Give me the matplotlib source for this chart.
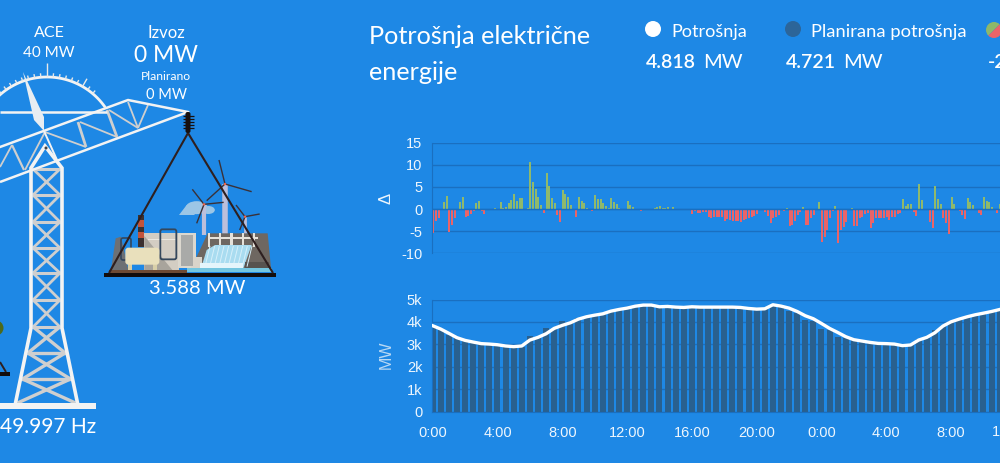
import matplotlib
matplotlib.use('Agg')
import numpy as np
import matplotlib.pyplot as plt
from matplotlib.patches import Circle, Polygon, Rectangle, Ellipse, FancyBboxPatch, Wedge

plt.rcParams['axes.unicode_minus'] = False

BG = '#1e88e5'
GRID = '#1a6fc0'
UI_FONT = ['Lato', 'DejaVu Sans']
AXIS_FONT = ['Liberation Sans', 'DejaVu Sans']

# delta, one value per 10 minutes
delta = [
    -5.3, -2.6, -1.9, 0, 1.6, 3.0, -5.1, -3.6, -2.0, -0.3, 1.6, 2.7, -1.8, -1.5, -1.0, -0.5,
    1.3, 1.8, -0.5, -1.0, -0.3, 0, -0.1, 0.3, 0, 1.6, 0.3, 0.5, 1.4, 2.0, 3.4, 1.8,
    2.6, 2.5, -0.1, 0.3, 10.5, 6.2, 4.6, 2.7, 0.9, -0.9, 8.1, 5.1, 2.5, 1.3, -1.4, -3.0,
    4.2, 3.5, 2.7, 0.9, 0, -1.7, 2.8, 1.8, 1.4, 0.3, 0, -0.5, 3.2, 2.3, 2.2, 1.4,
    0.7, 0.3, 2.6, 1.6, 1.2, 0.3, 0, -0.3, 1.8, 0.9, 0.5, 0, 0, -0.5, 0, 0,
    -0.2, 0, 0.2, 0.5, 0.6, 0.3, 0.3, 0.5, 0.1, 0.4, 0, 0, 0.05,
    -0.05, -0.05, -0.2, -1.1, -0.5, -0.9, -0.9, -0.6, -0.7, -1.7, -2.1, -1.7, -1.7, -1.7, -1.7, -2.7,
    -2.3, -2.4, -2.6, -2.7, -2.6, -2.9, -2.4, -2.3, -2.1, -1.7, -1.6, -1.1, 0, -0.3, -0.7, -1.5,
    -3.1, -2.1, -1.7, -1.3, 0, -0.4, 0.2, -3.9, -3.5, -2.7, -1.3, -0.6, 0.4, -3.5, -3.5, -2.1,
    -1.4, 0, 1.7, -7.4, -6.3, -4.6, -2.0, -0.4, 0.7, -7.6, -4.6, -4.0, -2.8, 0, 0.3, -3.7,
    -3.9, -1.9, -1.8, -1.2, -0.9, -4.2, -3.1, -2.1, -2.1, -2.1, -1.9, -1.8, -2.5, -1.7, -1.8, -1.1,
    -0.8, 2.3, 0.7, 1.2, 1.1, -0.7, -1.6, 5.6, 2.1, 0, 0, -2.8, -4.3, 5.1, 2.3, 1.2,
    -2.1, -3.1, -5.5, 2.8, 1.1, 0, -0.5, -1.4, -2.2, 2.5, 1.5, 1.0, 0, -0.8, -1.4, 2.7,
    1.8, 1.6, 0.5, -0.3, -0.9, 1.1,
]

# consumption and plan, one value per 30 minutes
consumption = [
    3830, 3680, 3490, 3295, 3175, 3100, 3030, 3010, 2980, 2925, 2895, 2925, 3190, 3310, 3470, 3710,
    3845, 3960, 4125, 4230, 4300, 4360, 4480, 4555, 4615, 4700, 4750, 4750, 4675, 4690, 4660, 4645,
    4675, 4660, 4660, 4660, 4660, 4660, 4645, 4600, 4570, 4585, 4765, 4705, 4615, 4465, 4275, 4140,
    3930, 3710, 3530, 3340, 3205, 3145, 3085, 3040, 3030, 3010, 2940, 2970, 3190, 3310, 3515, 3815,
    4005, 4125, 4230, 4320, 4390, 4465, 4555, 4630,
]
planned = [
    3800, 3650, 3420, 3280, 3150, 3080, 3010, 2990, 2960, 2910, 2880, 2900, 3385, 3300, 3740, 3700,
    4050, 3950, 4190, 4220, 4330, 4350, 4470, 4540, 4610, 4690, 4740, 4740, 4670, 4680, 4650, 4640,
    4660, 4650, 4650, 4650, 4650, 4650, 4630, 4590, 4560, 4570, 4720, 4650, 4470, 4400, 4080, 4050,
    3665, 3620, 3310, 3300, 3190, 3130, 3070, 3030, 3020, 3000, 2930, 2960, 3230, 3300, 3640, 3800,
    4020, 4110, 4210, 4310, 4400, 4450, 4540, 4610,
]
hour_ticks = [0, 4, 8, 12, 16, 20, 24, 28, 32]
hour_labels = ['0:00', '4:00', '8:00', '12:00', '16:00', '20:00', '0:00', '4:00', '8:00']

W, H = 1000, 463
fig = plt.figure(figsize=(10, 4.63), dpi=100, facecolor=BG)


def axes_px(left, top, right, bottom, **kw):
    return fig.add_axes([left / W, 1 - bottom / H, (right - left) / W, (bottom - top) / H], **kw)


# overlay in pixel coordinates for the illustration and the header
art = axes_px(0, 0, W, H, zorder=1)
art.set_xlim(0, W)
art.set_ylim(H, 0)
art.axis('off')


def seg(x0, y0, x1, y1, color='#f2f2f2', lw=1.5, z=3):
    art.plot([x0, x1], [y0, y1], color=color, lw=lw, solid_capstyle='butt', zorder=z)


GREY = '#cfcfcf'
WHITE = '#f3f3f3'

# tower lattice
rungs = [169, 195, 222, 248, 273, 300, 327]
for a, b in zip(rungs[:-1], rungs[1:]):
    seg(33, a, 60, b, GREY, 2.0)
    seg(60, a, 33, b, GREY, 2.0)
for y in rungs:
    seg(33, y, 60, y, GREY, 2.2)


def left_x(y):
    return 31 - (y - 328) * 15.5 / 75


low = [327, 353, 379, 403]
for a, b in zip(low[:-1], low[1:]):
    seg(left_x(a) + 2, a, 93 - left_x(b) - 2, b, GREY, 2.4)
    seg(93 - left_x(a) - 2, a, left_x(b) + 2, b, GREY, 2.4)
for y in low[1:3]:
    seg(left_x(y) + 1, y, 92 - left_x(y), y, GREY, 2.4)
art.plot([15.5, 31, 31, 45, 62, 62, 77.5], [403, 328, 168, 146, 168, 328, 403], color=WHITE, lw=2.6,
         solid_joinstyle='miter', zorder=4)
art.add_patch(Rectangle((0, 403), 96, 6, fc=WHITE, ec='none', zorder=5))

# arm webbing
for x0, y0, x1, y1, lw in [
    (128, 102, 138, 128, 1.3), (148, 105, 138, 128, 1.3), (107, 110, 117, 137, 2.0),
    (78, 122, 86, 147, 2.0), (80, 122, 117, 137, 1.3),
    (45, 132, 86, 147, 1.3), (45, 132, 25, 170, 1.3), (12, 145, 24, 170, 1.6), (0, 167, 12, 145, 1.3),
    (109, 110, 138, 128, 1.3),
]:
    seg(x0, y0, x1, y1, GREY, lw)
art.plot([0, 128, 188], [147, 100, 112], color=WHITE, lw=1.8, zorder=4)
seg(0, 182, 188, 112, WHITE, 1.8, 4)
seg(0, 112, 107, 112, WHITE, 1.8, 4)

# ACE gauge
theta = np.linspace(np.pi * 0.2, np.pi * 0.8, 60)
art.plot(47 + 71 * np.cos(theta), 148 - 71 * np.sin(theta), color=WHITE, lw=2.0, zorder=4)
for deg in np.arange(50, 135, 5):
    t = np.radians(deg)
    long_tick = deg in (60, 90)
    rr = 85 if deg == 90 else (80 if long_tick else 75)
    seg(47 + 71 * np.cos(t), 148 - 71 * np.sin(t), 47 + rr * np.cos(t), 148 - rr * np.sin(t), '#e8e8e8', 1.0, 4)
art.add_patch(Polygon([(23, 72), (34, 120), (44, 131), (44, 117)], fc='#e8edf2', ec='none', zorder=6))
seg(44, 131, 57, 160, WHITE, 1.4, 5)
art.add_patch(Circle((46, 148), 1.5, fc='#444444', ec='none', zorder=6))

# leftovers at the left edge
art.add_patch(Circle((-4, 328), 7.5, fc='#4c6a1c', ec='none', zorder=3))
seg(0, 362, 6, 372, '#2e1f1f', 1.4)
art.add_patch(Rectangle((0, 371.5), 9.5, 4, fc='#120d0d', ec='none', zorder=4))


# power plants, drawn from the crop coordinates
def zx(x):
    return 95 + x / 3


def zy(y):
    return 160 + y / 3


def zrect(x0, y0, x1, y1, color, z=3, **kw):
    art.add_patch(Rectangle((zx(x0), zy(y0)), (x1 - x0) / 3, (y1 - y0) / 3, fc=color, ec='none', zorder=z, **kw))


def zpoly(pts, color, z=3):
    art.add_patch(Polygon([(zx(x), zy(y)) for x, y in pts], fc=color, ec='none', zorder=z))


def zseg(x0, y0, x1, y1, color, lw=1.0, z=4):
    seg(zx(x0), zy(y0), zx(x1), zy(y1), color, lw, z)


# cloud
art.add_patch(Ellipse((zx(305), zy(143)), 22, 13, fc='#9cc6e6', ec='none', zorder=2))
art.add_patch(Ellipse((zx(340), zy(150)), 13, 8, fc='#9cc6e6', ec='none', zorder=2))
zpoly([(252, 165), (275, 135), (300, 165)], '#9cc6e6', 2)

# wind turbines
for hx, hy, bottom, tw, blades in [
    (390, 72, 222, 4.0, [(372, 0), (470, 95), (335, 122)]),
    (327, 133, 225, 3.0, [(292, 88), (386, 127), (305, 190)]),
    (450, 170, 222, 2.0, [(423, 135), (494, 162), (434, 210)]),
]:
    zseg(hx, hy, hx, bottom, '#bcbfdb', tw, 3)
    for bx, by in blades:
        zseg(hx, hy, bx, by, '#3a3138', 1.0, 4)
    art.add_patch(Circle((zx(hx), zy(hy)), 1.2, fc='#f0644a', ec='none', zorder=5))

# thermal block
zpoly([(62, 235), (78, 230), (100, 330), (48, 330)], '#6d7074')
art.add_patch(FancyBboxPatch((zx(78), zy(234)), 10, 22, boxstyle='round,pad=0,rounding_size=2', fc='none', ec='#34475c', lw=1.2, zorder=3))
zrect(148, 220, 252, 330, '#d3cdc3')
zpoly([(148, 228), (232, 330), (148, 330)], '#a8a49c')
zrect(160, 236, 245, 240, '#ece8e0', 4)
for y0, y1, c in [(165, 180, '#3b3030'), (180, 200, '#c2543c'), (200, 215, '#3b3030'), (215, 235, '#c2543c'), (235, 262, '#3b3030')]:
    zrect(128, y0, 147, y1, c, 4)
art.add_patch(FancyBboxPatch((zx(196), zy(208)), 16, 30, boxstyle='round,pad=0,rounding_size=2', fc='none', ec='#34475c', lw=1.3, zorder=4))
zrect(250, 218, 302, 325, '#dcd8cf', 5)
zrect(258, 226, 294, 318, '#a9aaa8', 6)
zrect(100, 312, 112, 330, '#d8cfa8', 5)
zrect(175, 312, 187, 330, '#d8cfa8', 5)
art.add_patch(FancyBboxPatch((zx(91), zy(263)), 34, 17, boxstyle='round,pad=0,rounding_size=3', fc='#e9e0bc', ec='none', zorder=6))

# dam
zpoly([(305, 290), (338, 220), (518, 220), (528, 325), (305, 325)], '#6e6761')
for x in range(338, 500, 34):
    zrect(x, 220, x + 7, 262, '#e6e2da', 4)
zrect(338, 232, 490, 238, '#e6e2da', 4)
zpoly([(318, 325), (335, 270), (360, 255), (470, 255), (445, 325)], '#a9dcf0', 5)
for x in range(340, 470, 14):
    zseg(x - 10, 320, x + 5, 258, '#d7f0fa', 0.7, 6)
zrect(316, 308, 445, 326, '#e4f5fb', 6)
zrect(450, 306, 522, 325, '#57534f', 5)
zrect(288, 292, 320, 325, '#d9d4ca', 5)

# ground and platform
zrect(42, 330, 275, 340, '#6d4a34', 7)
zrect(275, 325, 530, 336, '#74c6df', 7)
art.add_patch(Rectangle((104, 272.5), 172, 4, fc='#120d0d', ec='none', zorder=8))

# cables and insulator
seg(188, 133, 109, 273, '#2e1f1f', 1.5, 8)
seg(188, 133, 273, 273, '#2e1f1f', 1.5, 8)
art.add_patch(FancyBboxPatch((185.5, 112), 5, 21, boxstyle='round,pad=0,rounding_size=2', fc='#17100f', ec='none', zorder=9))
for y in range(116, 129, 3):
    seg(182.5, y, 194, y, '#17100f', 0.9, 9)


def label(x, y, s, size, ha='center', weight='normal', color='white'):
    art.text(x, y, s, fontsize=size, ha=ha, va='center', family=UI_FONT, weight=weight, color=color, zorder=12)


label(49, 33, 'ACE', 11.5)
label(49, 53, '40 MW', 11)
label(166, 33, 'Izvoz', 12)
label(166, 55, '0 MW', 16.5)
label(166, 77, 'Planirano', 8.7)
label(166, 95, '0 MW', 10.5)
label(197, 289, '3.588 MW', 14.5)
label(48, 427, '49.997 Hz', 15)

label(369, 37, 'Potrošnja električne', 18.2, ha='left')
label(369, 73, 'energije', 18.2, ha='left')

art.add_patch(Circle((653, 29), 8, fc='white', ec='none', zorder=10))
art.add_patch(Circle((793, 29), 8, fc='#2c6599', ec='none', zorder=10))
art.add_patch(Wedge((994, 30), 8, 135, 315, fc='#8db86a', ec='none', zorder=10))
art.add_patch(Wedge((994, 30), 8, -45, 135, fc='#ea6468', ec='none', zorder=10))
label(671, 32, 'Potrošnja', 13.1, ha='left')
label(811, 32, 'Planirana potrošnja', 13.2, ha='left')
label(646, 63, '4.818', 14, ha='left', weight='semibold')
label(703, 63, 'MW', 14.5, ha='left')
label(786, 63, '4.721', 14, ha='left', weight='semibold')
label(843, 63, 'MW', 14.5, ha='left')
label(988, 63, '-2', 14, ha='left', weight='semibold')

# charts
XMIN, XMAX = -0.04, 35.02
t_delta = np.arange(len(delta)) / 6 + 0.03
colors = ['#8fb96c' if v >= 0 else '#ea6468' for v in delta]

ax1 = axes_px(432, 142.5, W, 253.5, zorder=2)
ax2 = axes_px(432, 299.5, W, 411.5, zorder=2)
for ax in (ax1, ax2):
    ax.patch.set_alpha(0)
    ax.set_xlim(XMIN, XMAX)
    ax.grid(axis='y', color=GRID, lw=1.0)
    ax.set_axisbelow(True)
    for s in ax.spines.values():
        s.set_visible(False)
    ax.spines['left'].set_visible(True)
    ax.spines['left'].set_color(GRID)
    ax.tick_params(length=0, labelcolor='#eef6fd', labelsize=10.5, pad=7)

ax1.bar(t_delta, delta, width=0.125, color=colors, lw=0)
ax1.set_ylim(-10, 15)
ax1.set_yticks([-10, -5, 0, 5, 10, 15])
ax1.set_yticklabels(['-10', '-5', '0', '5', '10', '15'], family=AXIS_FONT)
ax1.set_xticks([])
ax1.axhline(0, color=GRID, lw=1.0, zorder=1)

t_half = np.arange(len(consumption)) / 2
ax2.bar(t_half, planned, width=0.37, color='#29608f', lw=0, zorder=2)
ax2.plot(t_half, consumption, color='white', lw=2.4, zorder=4, solid_joinstyle='round')
ax2.set_ylim(0, 5000)
ax2.set_yticks([0, 1000, 2000, 3000, 4000, 5000])
ax2.set_yticklabels(['0', '1k', '2k', '3k', '4k', '5k'], family=AXIS_FONT)
ax2.set_xticks(hour_ticks)
ax2.set_xticklabels(hour_labels, family=AXIS_FONT)
ax2.tick_params(axis='x', pad=10.4)
ax2.spines['bottom'].set_visible(True)
ax2.spines['bottom'].set_color(GRID)

art.text(386, 198, 'Δ', rotation=90, fontsize=12, color='#eef6fd', ha='center', va='center', family=AXIS_FONT, zorder=12)
art.text(386, 355, 'MW', rotation=90, fontsize=11.5, color='#b9d9f5', ha='center', va='center', family=AXIS_FONT, zorder=12)
art.text(1000, 432, '1', fontsize=10.5, color='#eef6fd', ha='right', va='center', family=AXIS_FONT, zorder=12)

fig.savefig('out.png', dpi=100, facecolor=BG)
